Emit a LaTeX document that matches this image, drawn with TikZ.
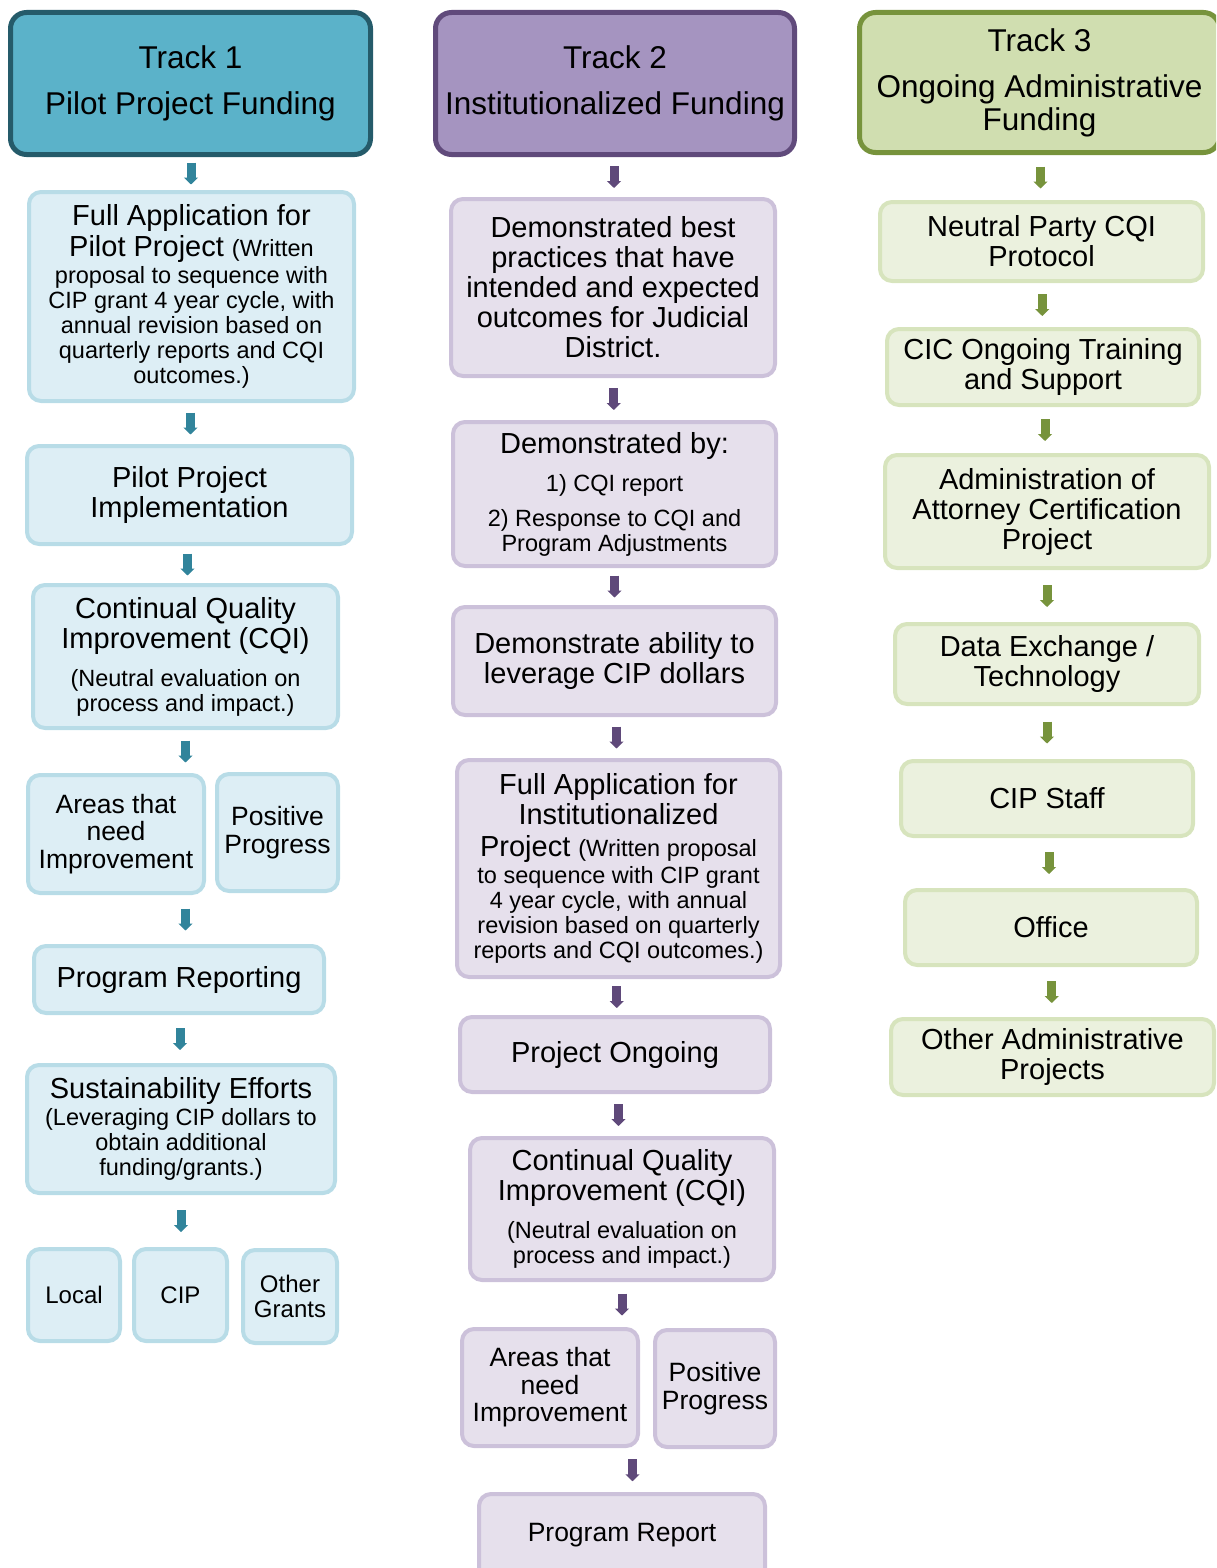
\documentclass[tikz,border=0pt]{standalone}
\usepackage{fontspec}
\setmainfont{Liberation Sans}
\usetikzlibrary{calc,arrows.meta}
\definecolor{tAH}{HTML}{5BB2C9}\definecolor{tAD}{HTML}{255B6A}
\definecolor{tAF}{HTML}{DDEEF5}\definecolor{tAB}{HTML}{B8DCE7}\definecolor{tAA}{HTML}{31849B}
\definecolor{tBH}{HTML}{A594C0}\definecolor{tBD}{HTML}{604A7B}
\definecolor{tBF}{HTML}{E6E0EC}\definecolor{tBB}{HTML}{CCC1DA}\definecolor{tBA}{HTML}{5F497A}
\definecolor{tCH}{HTML}{D0DEB0}\definecolor{tCD}{HTML}{77933C}
\definecolor{tCF}{HTML}{EBF1DE}\definecolor{tCB}{HTML}{D7E4BD}\definecolor{tCA}{HTML}{77933C}
\newcommand\fzH{\fontsize{31.5}{33}\selectfont}
\newcommand\fzB{\fontsize{29}{30}\selectfont}
\newcommand\fzM{\fontsize{26.5}{27.5}\selectfont}
\newcommand\fzS{\fontsize{23.5}{25}\selectfont}
\newcommand\fzL{\fontsize{24}{25}\selectfont}
\tikzset{
  hd/.style={rectangle, rounded corners=16pt, line width=5pt, align=center, inner sep=0pt, font=\fzH},
  bx/.style={rectangle, rounded corners=12pt, line width=4pt, align=center, inner sep=0pt, font=\fzB},
  hA/.style={hd, fill=tAH, draw=tAD}, bA/.style={bx, fill=tAF, draw=tAB},
  hB/.style={hd, fill=tBH, draw=tBD}, bB/.style={bx, fill=tBF, draw=tBB},
  hC/.style={hd, fill=tCH, draw=tCD}, bC/.style={bx, fill=tCF, draw=tCB},
  arr/.style={line width=9pt, -{Triangle[width=14pt,length=7pt]},
    to path={let \p1=($(\tikztostart)!0.5!(\tikztotarget)$) in (\x1,\y1+11pt) -- (\x1,\y1-11pt)}},
  aA/.style={arr, draw=tAA}, aB/.style={arr, draw=tBA}, aC/.style={arr, draw=tCA},
}
\begin{document}
\begin{tikzpicture}[x=1pt,y=-1pt]
\useasboundingbox (0,0) rectangle (1216,1568);
\clip (0,0) rectangle (1216,1568);
% ---------- Track 1 ----------
\node[hA, minimum width=360, minimum height=142] (h1) at (190.5,83.5) {Track 1\\[13pt]Pilot Project Funding};
\node[bA, minimum width=325, minimum height=209] (a1) at (191.5,296.5) {Full Application for\\[1pt]Pilot Project {\fzS (Written}\\[-3pt]\fzS proposal to sequence with\\[-5pt]\fzS CIP grant 4 year cycle, with\\[-5pt]\fzS annual revision based on\\[-5pt]\fzS quarterly reports and CQI\\[-5pt]\fzS outcomes.)};
\node[bA, minimum width=325, minimum height=98] (a2) at (189.5,495) {Pilot Project\\Implementation};
\node[bA, minimum width=305, minimum height=143] (a3) at (185.5,656.5) {Continual Quality\\Improvement (CQI)\\[8pt]\fzS (Neutral evaluation on\\[-5pt]\fzS process and impact.)};
\node[bA, font=\fzM, minimum width=176, minimum height=118] (a4) at (116,834) {Areas that\\need\\Improvement};
\node[bA, font=\fzM, minimum width=121, minimum height=117] (a5) at (277.5,832.5) {Positive\\Progress};
\node[bA, minimum width=290, minimum height=67] (a6) at (179,979.5) {Program Reporting};
\node[bA, minimum width=308, minimum height=128] (a7) at (181,1129) {Sustainability Efforts\\[-3pt]\fzS (Leveraging CIP dollars to\\[-5pt]\fzS obtain additional\\[-5pt]\fzS funding/grants.)};
\node[bA, font=\fzL, minimum width=92, minimum height=92] (a8) at (74,1295) {Local};
\node[bA, font=\fzL, minimum width=93, minimum height=92] (a9) at (180.5,1295) {CIP};
\node[bA, font=\fzL, minimum width=94, minimum height=93] (a10) at (290,1296.5) {Other\\Grants};
\draw[aA] (h1.south) to (a1.north);
\draw[aA] (a1.south) to (a2.north);
\draw[aA] (a2.south) to (a3.north);
\draw[aA] (a3.south) to (a3.south |- a4.north);
\draw[aA] (a3.south |- a4.south) to (a3.south |- a6.north);
\draw[aA] (a6.south) to (a7.north);
\draw[aA] (a7.south) to (a7.south |- a9.north);
% ---------- Track 2 ----------
\node[hB, minimum width=359, minimum height=142] (h2) at (615,83.5) {Track 2\\[13pt]Institutionalized Funding};
\node[bB, minimum width=324, minimum height=177] (b1) at (613,287.5) {Demonstrated best\\practices that have\\intended and expected\\outcomes for Judicial\\District.};
\node[bB, minimum width=323, minimum height=144] (b2) at (614.5,494) {Demonstrated by:\\[8pt]\fzS 1) CQI report\\[5pt]\fzS 2) Response to CQI and\\[-5pt]\fzS Program Adjustments};
\node[bB, minimum width=323, minimum height=108] (b3) at (614.5,661) {Demonstrate ability to\\leverage CIP dollars};
\node[bB, minimum width=323, minimum height=217] (b4) at (618.5,868.5) {Full Application for\\Institutionalized\\[2pt]Project {\fzS (Written proposal}\\[-3pt]\fzS to sequence with CIP grant\\[-5pt]\fzS 4 year cycle, with annual\\[-5pt]\fzS revision based on quarterly\\[-5pt]\fzS reports and CQI outcomes.)};
\node[bB, minimum width=310, minimum height=75] (b5) at (615,1054.5) {Project Ongoing};
\node[bB, minimum width=304, minimum height=142] (b6) at (622,1209) {Continual Quality\\Improvement (CQI)\\[8pt]\fzS (Neutral evaluation on\\[-5pt]\fzS process and impact.)};
\node[bB, font=\fzM, minimum width=176, minimum height=117] (b7) at (550,1387.5) {Areas that\\need\\Improvement};
\node[bB, font=\fzM, minimum width=120, minimum height=117] (b8) at (715,1388.5) {Positive\\Progress};
\node[bB, font=\fzM, minimum width=286, minimum height=106, text depth=30pt] (b9) at (622,1547) {Program Report};
\coordinate (b78) at ($(b7.south)!0.5!(b8.south)$);
\draw[aB] (h2.south) to (b1.north);
\draw[aB] (b1.south) to (b2.north);
\draw[aB] (b2.south) to (b3.north);
\draw[aB] (b3.south) to (b4.north);
\draw[aB] (b4.south) to (b5.north);
\draw[aB] (b5.south) to (b6.north);
\draw[aB] (b6.south) to (b6.south |- b7.north);
\draw[aB] (b78) to (b78 |- b9.north);
% ---------- Track 3 ----------
\node[hC, minimum width=360, minimum height=140] (h3) at (1039.5,82.5) {Track 3\\[13pt]Ongoing Administrative\\Funding};
\node[bC, minimum width=323, minimum height=79] (c1) at (1041.5,241.5) {Neutral Party CQI\\Protocol};
\node[bC, minimum width=312, minimum height=76] (c2) at (1043,367) {CIC Ongoing Training\\and Support};
\node[bC, minimum width=324, minimum height=113] (c3) at (1047,511.5) {Administration of\\Attorney Certification\\Project};
\node[bC, minimum width=304, minimum height=80] (c4) at (1047,664) {Data Exchange /\\Technology};
\node[bC, minimum width=292, minimum height=75] (c5) at (1047,798.5) {CIP Staff};
\node[bC, minimum width=292, minimum height=75] (c6) at (1051,927.5) {Office};
\node[bC, minimum width=323, minimum height=76] (c7) at (1052.5,1057) {Other Administrative\\Projects};
\draw[aC] (h3.south) to (c1.north);
\draw[aC] (c1.south) to (c2.north);
\draw[aC] (c2.south) to (c3.north);
\draw[aC] (c3.south) to (c4.north);
\draw[aC] (c4.south) to (c5.north);
\draw[aC] (c5.south) to (c6.north);
\draw[aC] (c6.south) to (c7.north);
\end{tikzpicture}
\end{document}
